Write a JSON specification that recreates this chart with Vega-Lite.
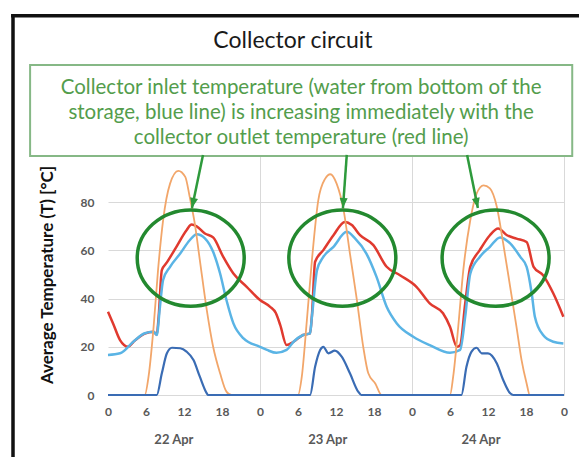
{
  "$schema": "https://vega.github.io/schema/vega-lite/v6.json",
  "width": 456,
  "height": 241,
  "autosize": "none",
  "padding": {"left": 108, "top": 154, "right": 15, "bottom": 62},
  "background": "#ffffff",
  "config": {"view": {"stroke": null}},
  "datasets": {
    "outlet": [
      {"h": 0, "v": 34.5}, {"h": 0.8, "v": 29.7}, {"h": 1.9, "v": 22.8}, {"h": 3.2, "v": 20.0},
      {"h": 4.0, "v": 22.0}, {"h": 5.8, "v": 25.5}, {"h": 7.2, "v": 26.2}, {"h": 7.7, "v": 25.0},
      {"h": 8.0, "v": 32.5}, {"h": 8.5, "v": 51.8}, {"h": 9.3, "v": 55.0}, {"h": 10.8, "v": 61.5},
      {"h": 12.4, "v": 68.4}, {"h": 13.2, "v": 70.7}, {"h": 14.0, "v": 70.0}, {"h": 15.3, "v": 67.0},
      {"h": 16.6, "v": 65.4}, {"h": 18.2, "v": 57.3}, {"h": 19.8, "v": 50.4}, {"h": 21.9, "v": 44.9},
      {"h": 24.0, "v": 39.4}, {"h": 25.6, "v": 36.6}, {"h": 26.5, "v": 34.0}, {"h": 27.2, "v": 29.0},
      {"h": 28.2, "v": 20.7}, {"h": 29.3, "v": 22.1}, {"h": 30.8, "v": 24.9}, {"h": 31.9, "v": 25.6},
      {"h": 32.2, "v": 33.0}, {"h": 32.7, "v": 55.3}, {"h": 34.0, "v": 60.1}, {"h": 35.6, "v": 66.3},
      {"h": 37.4, "v": 71.8}, {"h": 38.5, "v": 70.5}, {"h": 39.8, "v": 66.3}, {"h": 41.9, "v": 62.2},
      {"h": 44.0, "v": 53.2}, {"h": 46.1, "v": 49.7}, {"h": 48.7, "v": 44.9}, {"h": 50.8, "v": 38.0},
      {"h": 52.9, "v": 33.9}, {"h": 54.0, "v": 28.3}, {"h": 55.1, "v": 20.0}, {"h": 55.6, "v": 20.7},
      {"h": 56.4, "v": 38.0}, {"h": 57.2, "v": 53.2}, {"h": 58.7, "v": 60.1}, {"h": 60.3, "v": 66.3},
      {"h": 61.6, "v": 69.1}, {"h": 63.0, "v": 66.3}, {"h": 64.5, "v": 64.9}, {"h": 66.1, "v": 63.5},
      {"h": 67.2, "v": 53.2}, {"h": 68.7, "v": 49.7}, {"h": 70.3, "v": 42.2}, {"h": 71.9, "v": 32.5}
    ],
    "inlet": [
      {"h": 0, "v": 16.6}, {"h": 1.9, "v": 17.3}, {"h": 4.0, "v": 22.1}, {"h": 5.8, "v": 25.6},
      {"h": 7.2, "v": 26.2}, {"h": 7.7, "v": 24.9}, {"h": 8.2, "v": 36.6}, {"h": 8.7, "v": 47.7},
      {"h": 9.8, "v": 53.2}, {"h": 11.4, "v": 58.7}, {"h": 12.9, "v": 64.2}, {"h": 14.0, "v": 66.7},
      {"h": 15.3, "v": 65.0}, {"h": 16.6, "v": 59.4}, {"h": 17.7, "v": 50.4}, {"h": 18.7, "v": 39.4},
      {"h": 19.8, "v": 29.7}, {"h": 21.4, "v": 23.5}, {"h": 24.0, "v": 20.0}, {"h": 25.1, "v": 18.7},
      {"h": 26.6, "v": 17.5}, {"h": 28.2, "v": 18.7}, {"h": 29.3, "v": 22.1}, {"h": 30.8, "v": 24.9},
      {"h": 31.9, "v": 25.6}, {"h": 32.2, "v": 32.5}, {"h": 33.0, "v": 51.8}, {"h": 34.0, "v": 57.3},
      {"h": 35.6, "v": 61.5}, {"h": 37.7, "v": 67.7}, {"h": 39.0, "v": 65.0}, {"h": 40.8, "v": 58.7},
      {"h": 42.4, "v": 49.0}, {"h": 44.0, "v": 36.6}, {"h": 45.6, "v": 29.7}, {"h": 48.2, "v": 24.2},
      {"h": 50.8, "v": 20.7}, {"h": 54.0, "v": 17.5}, {"h": 55.6, "v": 18.7}, {"h": 56.4, "v": 32.5},
      {"h": 57.2, "v": 50.4}, {"h": 58.7, "v": 57.3}, {"h": 60.3, "v": 61.5}, {"h": 61.9, "v": 65.4},
      {"h": 63.5, "v": 62.9}, {"h": 65.1, "v": 57.3}, {"h": 66.1, "v": 53.2}, {"h": 66.9, "v": 42.2},
      {"h": 67.4, "v": 32.5}, {"h": 68.7, "v": 24.9}, {"h": 70.3, "v": 22.1}, {"h": 71.9, "v": 21.4}
    ],
    "radiation": [
      {"h": 0, "v": 0}, {"h": 5.8, "v": 0}, {"h": 6.4, "v": 7.6}, {"h": 7.2, "v": 28.3},
      {"h": 7.9, "v": 51.8}, {"h": 8.7, "v": 72.5}, {"h": 9.8, "v": 87.7}, {"h": 11.1, "v": 93.0},
      {"h": 12.2, "v": 90.5}, {"h": 12.9, "v": 82.2}, {"h": 13.7, "v": 71.2}, {"h": 14.5, "v": 56.0},
      {"h": 15.6, "v": 35.2}, {"h": 16.6, "v": 20.0}, {"h": 17.7, "v": 9.0}, {"h": 18.7, "v": 1.4},
      {"h": 19.5, "v": 0}, {"h": 30.0, "v": 0}, {"h": 30.6, "v": 7.6}, {"h": 31.4, "v": 31.0},
      {"h": 32.2, "v": 56.0}, {"h": 33.2, "v": 80.8}, {"h": 34.3, "v": 89.8}, {"h": 35.1, "v": 91.6},
      {"h": 36.1, "v": 87.7}, {"h": 37.2, "v": 76.7}, {"h": 38.2, "v": 58.7}, {"h": 39.3, "v": 39.4},
      {"h": 40.3, "v": 20.0}, {"h": 41.1, "v": 9.0}, {"h": 42.2, "v": 4.8}, {"h": 43.2, "v": 0},
      {"h": 54.0, "v": 0}, {"h": 54.5, "v": 7.6}, {"h": 55.3, "v": 28.3}, {"h": 56.1, "v": 51.8},
      {"h": 57.2, "v": 72.5}, {"h": 58.2, "v": 83.6}, {"h": 59.3, "v": 87.0}, {"h": 60.3, "v": 85.7},
      {"h": 61.4, "v": 78.0}, {"h": 62.4, "v": 62.9}, {"h": 63.5, "v": 44.9}, {"h": 64.5, "v": 28.3},
      {"h": 65.3, "v": 14.5}, {"h": 66.1, "v": 4.8}, {"h": 66.6, "v": 0}, {"h": 72, "v": 0}
    ],
    "flow": [
      {"h": 0, "v": 0}, {"h": 7.7, "v": 0}, {"h": 8.5, "v": 9.0}, {"h": 9.3, "v": 17.3},
      {"h": 10.1, "v": 19.6}, {"h": 11.4, "v": 19.4}, {"h": 12.4, "v": 18.0}, {"h": 13.5, "v": 14.5},
      {"h": 14.5, "v": 7.6}, {"h": 15.6, "v": 0.7}, {"h": 15.8, "v": 0}, {"h": 31.9, "v": 0},
      {"h": 32.7, "v": 11.7}, {"h": 33.5, "v": 18.7}, {"h": 34.0, "v": 20.0}, {"h": 34.8, "v": 17.3},
      {"h": 35.8, "v": 18.4}, {"h": 36.9, "v": 15.9}, {"h": 38.2, "v": 9.0}, {"h": 39.5, "v": 1.4},
      {"h": 40.0, "v": 0}, {"h": 55.8, "v": 0}, {"h": 56.6, "v": 11.7}, {"h": 57.4, "v": 18.0},
      {"h": 58.2, "v": 19.6}, {"h": 59.0, "v": 17.3}, {"h": 60.0, "v": 17.3}, {"h": 61.4, "v": 13.1},
      {"h": 62.4, "v": 6.2}, {"h": 63.5, "v": 0.7}, {"h": 64.0, "v": 0}, {"h": 72, "v": 0}
    ],
    "frame": [
      {"h": -15, "v": 158, "h2": -15, "v2": -100},
      {"h": -15.3, "v": 157.4, "h2": 120, "v2": 157.4}
    ],
    "box": [{"h": -12.3, "v": 136.9, "h2": 73.3, "v2": 99.2}],
    "boxtext": [{"label": "Collector inlet temperature (water from bottom of the\nstorage, blue line) is increasing immediately with the\ncollector outlet temperature (red line)", "h": 30.5, "v": 127.4}],
    "title": [{"label": "Collector circuit", "h": 29.2, "v": 147}],
    "arrows": [
      {"h": 15.0, "v": 99.6, "h2": 13.26, "v2": 77.6, "dir": 12},
      {"h": 37.7, "v": 99.6, "h2": 37.1, "v2": 77.6, "dir": 4},
      {"h": 56.7, "v": 99.6, "h2": 58.4, "v2": 77.6, "dir": 348}
    ],
    "circles": [{"h": 13.06, "v": 56.8}, {"h": 37.0, "v": 56.8}, {"h": 61.2, "v": 56.8}],
    "days": [{"label": "22 Apr", "h": 10.4, "v": -18.7}, {"label": "23 Apr", "h": 34.7, "v": -18.7}, {"label": "24 Apr", "h": 58.9, "v": -18.7}]
  },
  "encoding": {
    "x": {
      "field": "h", "type": "quantitative",
      "scale": {"domain": [0, 72], "nice": false, "zero": false},
      "axis": {
        "values": [0, 6, 12, 18, 24, 30, 36, 42, 48, 54, 60, 66, 72],
        "labelExpr": "'' + (datum.value % 24)",
        "labelFont": "Lato", "labelFontWeight": "bold", "labelFontSize": 12, "labelColor": "#595959",
        "labelPadding": 11, "ticks": false, "domain": false, "labelFlush": false, "labelOverlap": false,
        "grid": true, "gridColor": "#d9d9d9",
        "gridOpacity": {"condition": {"test": "datum.value % 24 === 0 && datum.value > 0", "value": 1}, "value": 0},
        "title": null
      }
    },
    "y": {
      "field": "v", "type": "quantitative",
      "scale": {"domain": [0, 100], "nice": false},
      "axis": {
        "values": [0, 20, 40, 60, 80],
        "labelFont": "Lato", "labelFontWeight": "bold", "labelFontSize": 12, "labelColor": "#595959",
        "labelPadding": 14, "ticks": false, "domain": false, "grid": true, "gridColor": "#d9d9d9",
        "title": "Average Temperature (T)  [°C]", "titleFont": "Lato", "titleFontSize": 17,
        "titleFontWeight": "bold", "titleColor": "#111111", "titlePadding": 24
      }
    }
  },
  "layer": [
    {"data": {"name": "outlet"}, "mark": {"type": "line", "color": "#e03a2f", "strokeWidth": 2.5, "interpolate": "monotone"}},
    {"data": {"name": "inlet"}, "mark": {"type": "line", "color": "#5ab4e5", "strokeWidth": 2.5, "interpolate": "monotone"}},
    {"data": {"name": "radiation"}, "mark": {"type": "line", "color": "#f2a66a", "strokeWidth": 1.8, "interpolate": "monotone"}},
    {"data": {"name": "flow"}, "mark": {"type": "line", "color": "#3a6cb4", "strokeWidth": 2.2, "interpolate": "monotone"}},
    {"data": {"name": "frame"}, "mark": {"type": "rule", "color": "#111111", "strokeWidth": 3.5},
     "encoding": {"x2": {"field": "h2"}, "y2": {"field": "v2"}}},
    {"data": {"name": "box"}, "mark": {"type": "rect", "fill": "#ffffff", "stroke": "#86b886", "strokeWidth": 2},
     "encoding": {"x2": {"field": "h2"}, "y2": {"field": "v2"}}},
    {"data": {"name": "boxtext"}, "mark": {"type": "text", "font": "Lato", "fontSize": 20.5, "color": "#539d4c", "lineBreak": "\n", "lineHeight": 25, "align": "center", "baseline": "middle"},
     "encoding": {"text": {"field": "label", "type": "nominal"}}},
    {"data": {"name": "title"}, "mark": {"type": "text", "font": "Lato", "fontSize": 23, "color": "#1a1a1a", "align": "center", "baseline": "middle"},
     "encoding": {"text": {"field": "label", "type": "nominal"}}},
    {"data": {"name": "arrows"}, "mark": {"type": "rule", "color": "#2e9a3c", "strokeWidth": 2.5},
     "encoding": {"x2": {"field": "h2"}, "y2": {"field": "v2"}}},
    {"data": {"name": "arrows"}, "mark": {"type": "point", "shape": "M 0 0 L -0.8 -2 L 0.8 -2 Z", "size": 100, "filled": true, "color": "#2e9a3c", "opacity": 1},
     "encoding": {"x": {"field": "h2", "type": "quantitative"}, "y": {"field": "v2", "type": "quantitative"}, "angle": {"field": "dir", "type": "quantitative", "scale": null}}},
    {"data": {"name": "circles"}, "mark": {"type": "point", "shape": "M 1 0 C 1 0.497 0.552 0.9 0 0.9 C -0.552 0.9 -1 0.497 -1 0 C -1 -0.497 -0.552 -0.9 0 -0.9 C 0.552 -0.9 1 -0.497 1 0 Z", "size": 11449, "filled": false, "color": "#23892f", "strokeWidth": 3.5, "opacity": 1}},
    {"data": {"name": "days"}, "mark": {"type": "text", "font": "Lato", "fontSize": 13, "fontWeight": "bold", "color": "#595959", "align": "center", "baseline": "middle"},
     "encoding": {"text": {"field": "label", "type": "nominal"}}}
  ]
}
